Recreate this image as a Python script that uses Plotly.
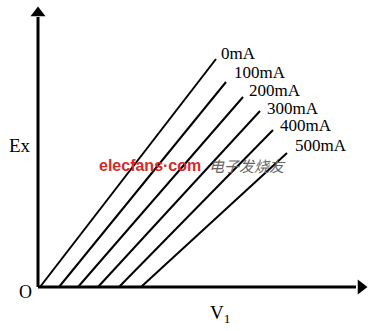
import plotly.graph_objects as go

# data (x = V1, y = Ex, arbitrary units; origin at axes corner)
series_labels = ["0mA", "100mA", "200mA", "300mA", "400mA", "500mA"]
x_start = [2, 21, 40, 60, 81, 103]
x_end = [178, 188, 205, 222, 235, 249]
y_end = [228, 205, 190, 176, 157, 134]
label_x = [181, 194, 209, 227, 240, 255]
label_y = [234, 215, 197, 179, 162, 142]

fig = go.Figure()
for i, name in enumerate(series_labels):
    fig.add_trace(go.Scatter(x=[x_start[i], x_end[i]], y=[0, y_end[i]], mode="lines",
                             line=dict(color="black", width=2), showlegend=False, hoverinfo="skip"))
    fig.add_annotation(x=label_x[i], y=label_y[i], text=name, showarrow=False, xanchor="left",
                       font=dict(family="Liberation Serif", size=17, color="black"))

# axes with arrows
fig.add_trace(go.Scatter(x=[0, 0], y=[0, 270], mode="lines", line=dict(color="black", width=3),
                         showlegend=False, hoverinfo="skip"))
fig.add_trace(go.Scatter(x=[0, 318], y=[0, 0], mode="lines", line=dict(color="black", width=3),
                         showlegend=False, hoverinfo="skip"))
fig.add_trace(go.Scatter(x=[0], y=[274], mode="markers",
                         marker=dict(symbol="triangle-up", size=13, color="black"),
                         showlegend=False, hoverinfo="skip"))
fig.add_trace(go.Scatter(x=[323], y=[0], mode="markers",
                         marker=dict(symbol="triangle-right", size=13, color="black"),
                         showlegend=False, hoverinfo="skip"))

fig.add_annotation(x=-18.5, y=142, text="Ex", showarrow=False,
                   font=dict(family="Liberation Serif", size=19, color="black"))
fig.add_annotation(x=-13, y=-5, text="O", showarrow=False,
                   font=dict(family="Liberation Serif", size=18, color="black"))
fig.add_annotation(x=182, y=-27, text="V<sub>1</sub>", showarrow=False,
                   font=dict(family="Liberation Serif", size=19, color="black"))

# watermark
fig.add_annotation(x=59, y=122, text="<b>elecfans·com</b>", showarrow=False, xanchor="left",
                   font=dict(family="Liberation Sans", size=16, color="#d42a2a"))
fig.add_annotation(x=169, y=122, text="<i>电子发烧友</i>", showarrow=False, xanchor="left",
                   font=dict(family="Noto Sans CJK SC", size=15, color="#666666"))

fig.update_layout(
    width=383, height=331, margin=dict(l=0, r=0, t=0, b=0),
    paper_bgcolor="white", plot_bgcolor="white",
    xaxis=dict(range=[-38, 345], visible=False, fixedrange=True),
    yaxis=dict(range=[-44, 287], visible=False, fixedrange=True),
)
fig.write_html("out.html")
